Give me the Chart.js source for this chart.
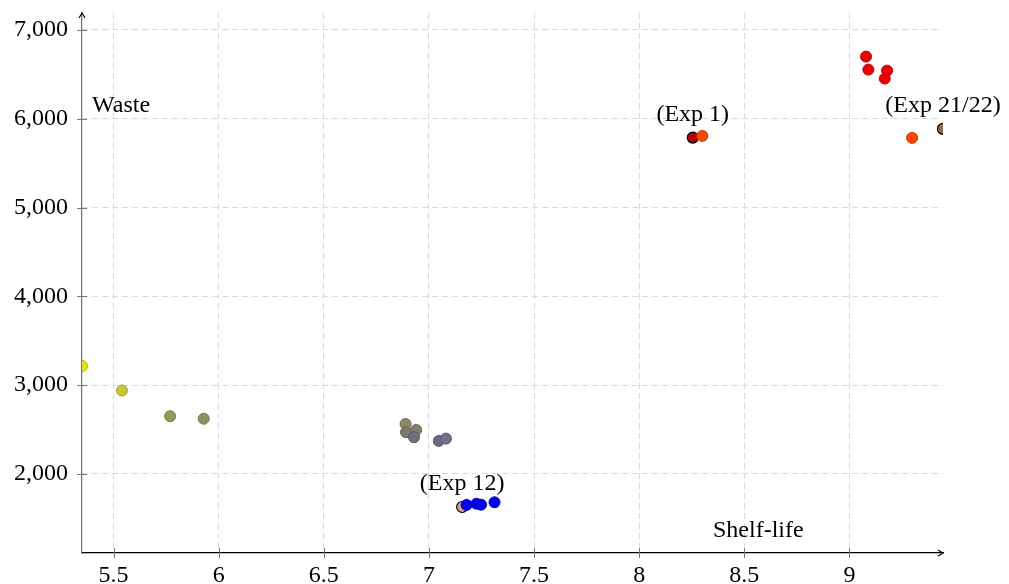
<!DOCTYPE html>
<html>
<head>
<meta charset="utf-8">
<script src="https://cdn.jsdelivr.net/npm/chart.js@4.4.0/dist/chart.umd.min.js"></script>
<style>
  body { margin: 0; background: #fff; }
  canvas { display: block; }
</style>
</head>
<body>
<canvas id="wasteChart" width="1009" height="584"></canvas>
<script>
// regular experiments: shelf-life vs waste
const shelfLife = [5.350, 5.540, 5.769, 5.929, 6.889, 6.891, 6.939, 6.929, 7.047, 7.081,
                   7.179, 7.226, 7.248, 7.312, 8.300, 9.079, 9.090, 9.179, 9.168, 9.298];
const waste = [3216, 2940, 2650, 2622, 2563, 2470, 2495, 2413, 2372, 2398,
               1651, 1665, 1654, 1681, 5806, 6699, 6553, 6541, 6452, 5784];

// highlighted experiments
const expLabels = ['(Exp 1)', '(Exp 12)', '(Exp 21/22)'];
const expShelfLife = [8.255, 7.158, 9.445];
const expWaste = [5787, 1628, 5885];

const xTicks = [5.5, 6, 6.5, 7, 7.5, 8, 8.5, 9];
const yTicks = [2000, 3000, 4000, 5000, 6000, 7000];

// fill colours, one per regular point
const pointFill = ['#e6e600', '#c6c632', '#97975c', '#909062', '#8a8a60', '#7b7b6c', '#80806e', '#6e6e80',
                   '#6a6a88', '#70708a', '#0000ee', '#0000ee', '#0000ee', '#0000ee', '#ff4500',
                   '#ee0000', '#ee0000', '#ee0000', '#ee0000', '#ff4500'];
const expFill = ['#b80000', '#d2a679', '#a0683a'];

const serif = "'Liberation Serif', 'Times New Roman', serif";

const darken = hex => {
  const n = parseInt(hex.slice(1), 16);
  const f = c => Math.round(c * 0.8);
  return `rgb(${f(n >> 16)}, ${f((n >> 8) & 255)}, ${f(n & 255)})`;
};

const axisDecor = {
  id: 'axisDecor',
  afterDraw(chart) {
    const { ctx, chartArea: a, scales: { x, y } } = chart;
    ctx.save();
    // tick marks crossing the axes
    ctx.strokeStyle = '#777';
    ctx.lineWidth = 1;
    xTicks.forEach(v => {
      const px = Math.round(x.getPixelForValue(v)) + 0.5;
      ctx.beginPath(); ctx.moveTo(px, a.bottom - 5); ctx.lineTo(px, a.bottom + 5); ctx.stroke();
    });
    yTicks.forEach(v => {
      const py = Math.round(y.getPixelForValue(v)) + 0.5;
      ctx.beginPath(); ctx.moveTo(a.left - 5, py); ctx.lineTo(a.left + 5, py); ctx.stroke();
    });

    // arrow heads
    ctx.strokeStyle = '#000';
    ctx.lineWidth = 1.2;
    ctx.beginPath();
    ctx.moveTo(a.left - 3, a.top + 5); ctx.lineTo(a.left, a.top); ctx.lineTo(a.left + 3, a.top + 5);
    ctx.moveTo(a.right - 5, a.bottom - 3); ctx.lineTo(a.right, a.bottom); ctx.lineTo(a.right - 5, a.bottom + 3);
    ctx.stroke();

    // axis names
    ctx.fillStyle = '#000';
    ctx.font = '24px ' + serif;
    ctx.textBaseline = 'alphabetic';
    ctx.textAlign = 'left';
    ctx.fillText('Waste', a.left + 10, 112);
    ctx.fillText('Shelf-life', a.right - 230, a.bottom - 16);

    // experiment labels above their points
    ctx.textAlign = 'center';
    ctx.textBaseline = 'middle';
    expLabels.forEach((t, i) => {
      const px = x.getPixelForValue(expShelfLife[i]);
      const py = y.getPixelForValue(expWaste[i]);
      ctx.fillText(t, px, py - 23);
    });
    ctx.restore();
  }
};

new Chart(document.getElementById('wasteChart'), {
  type: 'scatter',
  data: {
    datasets: [
      {
        data: shelfLife.map((v, i) => ({ x: v, y: waste[i] })),
        backgroundColor: pointFill,
        borderColor: pointFill.map(darken),
        borderWidth: 1,
        pointRadius: 5.5
      },
      {
        data: expShelfLife.map((v, i) => ({ x: v, y: expWaste[i] })),
        backgroundColor: expFill,
        borderColor: '#000',
        borderWidth: 1.2,
        pointRadius: 5.5
      }
    ]
  },
  options: {
    responsive: false,
    animation: false,
    layout: { padding: { left: 0, right: 66, top: 13, bottom: 0 } },
    plugins: { legend: { display: false }, tooltip: { enabled: false } },
    scales: {
      x: {
        type: 'linear',
        min: 5.35,
        max: 9.445,
        afterBuildTicks: s => { s.ticks = xTicks.map(v => ({ value: v })); },
        afterFit: s => { s.height = 31; s.paddingLeft = 0; s.paddingRight = 0; },
        grid: { color: '#d9d9d9', drawTicks: false },
        border: { color: '#000', width: 1.2, dash: [6, 4] },
        ticks: { color: '#000', padding: 8, font: { family: serif, size: 24 }, callback: v => String(v) }
      },
      y: {
        min: 1110,
        max: 7190,
        afterBuildTicks: s => { s.ticks = yTicks.map(v => ({ value: v })); },
        afterFit: s => { s.width = 82; s.paddingTop = 0; s.paddingBottom = 0; },
        grid: { color: '#d9d9d9', drawTicks: false },
        border: { color: '#707070', width: 1.2, dash: [6, 4] },
        ticks: { color: '#000', padding: 14, font: { family: serif, size: 24 }, callback: v => v.toLocaleString('en-US') }
      }
    }
  },
  plugins: [axisDecor]
});
</script>
</body>
</html>
